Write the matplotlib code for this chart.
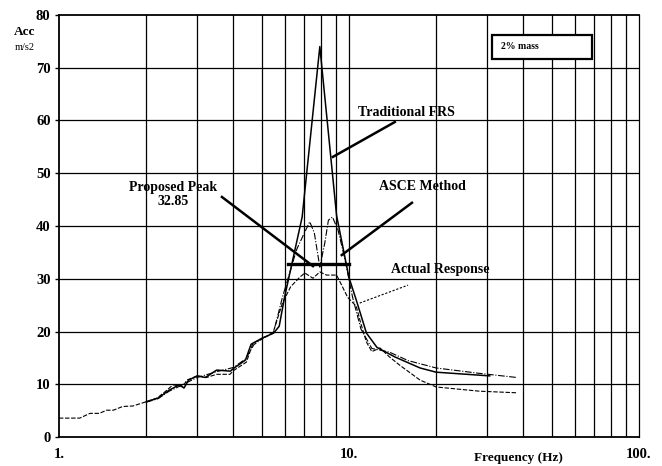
import matplotlib.pyplot as plt
from matplotlib.patches import Rectangle

# floor response spectra, 2% damping case
trad_freq = [2.0, 2.2, 2.4, 2.6, 2.7, 2.8, 3.0, 3.2, 3.5, 3.9, 4.0, 4.4, 4.6, 5.0,
             5.5, 5.75, 6.0, 6.9, 7.94, 9.07, 10.0, 10.6, 11.5, 12.5, 13.0, 14.4,
             17.6, 20.0, 30.6]
trad_acc = [6.7, 7.4, 8.9, 9.9, 9.3, 10.8, 11.6, 11.3, 12.7, 12.5, 13.0, 14.6, 17.6,
            18.7, 19.7, 21.0, 26.5, 41.7, 74.0, 42.0, 30.3, 26.0, 19.7, 17.0, 16.5,
            15.2, 13.1, 12.3, 11.6]

asce_freq = [2.0, 2.2, 2.4, 2.6, 2.8, 3.0, 3.5, 4.0, 4.4, 4.7, 5.1, 5.5, 5.9, 6.6,
             7.05, 7.33, 7.6, 7.94, 8.26, 8.5, 8.78, 9.18, 9.7, 10.3, 11.0, 12.0,
             13.8, 16.0, 20.0, 28.0, 37.9]
asce_acc = [6.6, 7.3, 8.7, 9.6, 10.5, 11.3, 12.4, 13.2, 14.8, 17.5, 18.9, 19.9, 26.5,
            35.5, 38.9, 40.8, 38.7, 32.2, 36.8, 41.1, 41.7, 39.2, 33.6, 26.5, 20.5,
            16.8, 16.1, 14.5, 13.1, 12.1, 11.3]

actual_freq = [1.0, 1.18, 1.28, 1.38, 1.46, 1.54, 1.66, 1.80, 2.0, 2.18, 2.36, 2.47,
               2.68, 2.76, 3.0, 3.23, 3.5, 3.89, 4.0, 4.43, 4.67, 5.05, 5.47, 5.9,
               6.3, 6.77, 7.05, 7.52, 7.94, 8.38, 9.07, 9.5, 9.9, 10.6, 11.0, 11.5,
               12.0, 12.8, 13.8, 15.0, 17.6, 20.0, 28.2, 37.9]
actual_acc = [3.6, 3.6, 4.5, 4.5, 5.1, 5.1, 5.8, 5.9, 6.7, 7.4, 8.9, 9.9, 9.6, 10.8,
              11.6, 11.3, 11.9, 11.9, 12.6, 14.2, 17.8, 18.7, 19.7, 25.4, 28.5, 30.3,
              31.1, 30.1, 31.3, 30.7, 30.7, 28.5, 26.5, 24.8, 21.5, 18.0, 16.2, 16.9,
              15.2, 13.6, 10.8, 9.5, 8.7, 8.4]

proposed_peak = 32.85
proposed_band = [6.16, 10.0]

y_ticks = [0, 10, 20, 30, 40, 50, 60, 70, 80]
x_ticks = [1, 10, 100]
x_tick_labels = ["1.", "10.", "100."]

SERIF = ["Liberation Serif", "DejaVu Serif"]

fig = plt.figure(figsize=(6.62, 4.66), dpi=100)
ax = fig.add_axes([0.089, 0.062, 0.876, 0.906])

ax.set_xscale("log")
ax.set_xlim(1, 100)
ax.set_ylim(0, 80)

# grid: decades and sub-decades, every 10 m/s2
minor = [m * d for d in (1, 10) for m in range(2, 10)]
for f in minor + [10]:
    ax.axvline(f, color="black", lw=0.9, zorder=1)
for v in y_ticks[1:-1]:
    ax.axhline(v, color="black", lw=0.9, zorder=1)

ax.plot(actual_freq, actual_acc, color="black", lw=0.8, ls=(0, (4, 1.5)), zorder=3)
ax.plot(asce_freq, asce_acc, color="black", lw=0.8, ls=(0, (6, 1.5, 1, 1.5)), zorder=3)
ax.plot(trad_freq, trad_acc, color="black", lw=1.1, zorder=4)

ax.plot(proposed_band, [proposed_peak, proposed_peak], color="black", lw=2.4, zorder=5)

bold = dict(family=SERIF, fontweight="bold", fontsize=10, color="black")

ax.text(15.8, 61.6, "Traditional FRS", ha="center", va="center", **bold)
ax.plot([14.4, 8.81], [59.7, 53.1], color="black", lw=1.8, zorder=5)

ax.text(18.0, 47.4, "ASCE Method", ha="center", va="center", **bold)
ax.plot([16.5, 9.45], [44.4, 34.5], color="black", lw=1.8, zorder=5)

ax.text(20.7, 31.8, "Actual Response", ha="center", va="center", **bold)
ax.plot([10.9, 16.0], [25.4, 28.8], color="black", lw=0.8, ls=(0, (2, 1.5)), zorder=5)

ax.text(2.48, 46.0, "Proposed Peak\n" + f"{proposed_peak:.2f}", ha="center",
        va="center", linespacing=1.1, **bold)
ax.plot([3.65, 7.52], [45.5, 32.4], color="black", lw=1.8, zorder=5)

# damping box in the upper right
ax.add_patch(Rectangle((0.747, 0.896), 0.172, 0.057, transform=ax.transAxes,
                       fill=True, facecolor="white", edgecolor="black", lw=1.6,
                       zorder=6))
ax.text(0.762, 0.925, "2% mass", transform=ax.transAxes, ha="left", va="center",
        family=SERIF, fontweight="bold", fontsize=7, zorder=7)

ax.set_xticks(x_ticks)
ax.set_xticklabels(x_tick_labels)
ax.set_xticks([], minor=True)
ax.set_yticks(y_ticks)
ax.tick_params(axis="x", length=0, pad=8)
ax.tick_params(axis="y", length=3, width=1, pad=3)
for lab in ax.get_xticklabels() + ax.get_yticklabels():
    lab.set_fontfamily(SERIF)
    lab.set_fontweight("bold")
    lab.set_fontsize(10.5)

for side in ("left", "bottom", "top"):
    ax.spines[side].set_linewidth(1.3)
ax.spines["right"].set_linewidth(0.9)
ax.spines["right"].set_linestyle((0, (3, 1)))

fig.text(25 / 662, 1 - 32 / 466, "Acc", ha="center", va="center",
         family=SERIF, fontweight="bold", fontsize=9.5)
fig.text(25 / 662, 1 - 48 / 466, "m/s2", ha="center", va="center",
         family=SERIF, fontsize=7.5)
fig.text(518 / 662, 1 - 458 / 466, "Frequency (Hz)", ha="center", va="center",
         family=SERIF, fontweight="bold", fontsize=9.5)

fig.savefig("out.png", dpi=100)
